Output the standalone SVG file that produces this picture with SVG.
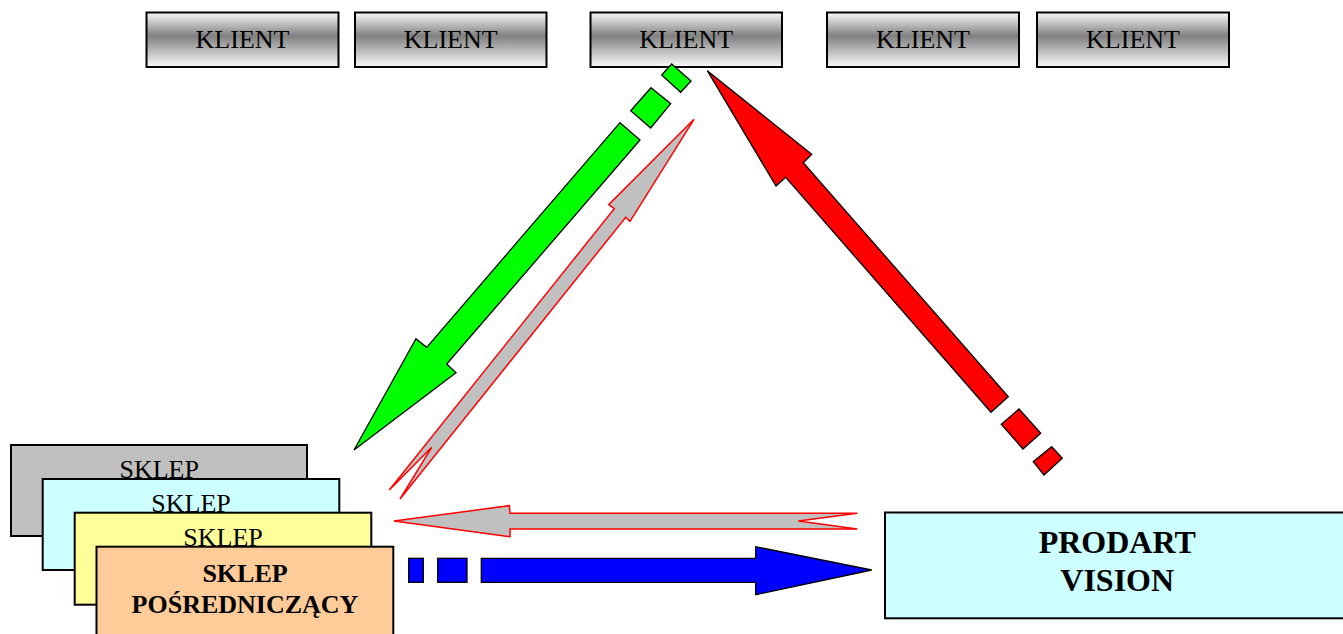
<svg xmlns="http://www.w3.org/2000/svg" width="1343" height="634" viewBox="0 0 1343 634">
<style>
.klient{stroke:#000;stroke-width:2;fill:url(#kg)}
.box{stroke:#000;stroke-width:2}
.t{font-family:"Liberation Serif","Times New Roman",serif;font-size:26px;fill:#000;text-anchor:middle}
.b{font-weight:bold}
.big{font-size:32px}
.blk{stroke:#000;stroke-width:1.3;stroke-linejoin:miter}
.hollow{fill:#c0c0c0;stroke:#ff0000;stroke-width:1.5}
</style>
<defs>
<linearGradient id="kg" x1="0" y1="0" x2="0" y2="1">
<stop offset="0" stop-color="#fafafa"/>
<stop offset="0.43" stop-color="#808080"/>
<stop offset="1" stop-color="#fafafa"/>
</linearGradient>
</defs>
<rect width="1343" height="634" fill="#fff"/>
<g id="klient1"><rect class="klient" x="146.5" y="12.5" width="192" height="54.5"/><text class="t" x="242.5" y="48.3">KLIENT</text></g>
<g id="klient2"><rect class="klient" x="355" y="12.5" width="191.5" height="54.5"/><text class="t" x="450.7" y="48.3">KLIENT</text></g>
<g id="klient3"><rect class="klient" x="590.5" y="12.5" width="191.5" height="54.5"/><text class="t" x="686.2" y="48.3">KLIENT</text></g>
<g id="klient4"><rect class="klient" x="827" y="12.5" width="192" height="54.5"/><text class="t" x="923" y="48.3">KLIENT</text></g>
<g id="klient5"><rect class="klient" x="1037" y="12.5" width="192" height="54.5"/><text class="t" x="1133" y="48.3">KLIENT</text></g>
<g id="sklep1"><rect class="box" x="11" y="445" width="296" height="91" fill="#c0c0c0"/><text class="t" x="159.2" y="477.7">SKLEP</text></g>
<g id="sklep2"><rect class="box" x="42.7" y="479" width="296.6" height="91" fill="#ccffff"/><text class="t" x="191" y="511.7">SKLEP</text></g>
<g id="sklep3"><rect class="box" x="74.7" y="512.7" width="296.6" height="92" fill="#ffff99"/><text class="t" x="223" y="546">SKLEP</text></g>
<g id="sklep4"><rect class="box" x="96.5" y="546.7" width="296.8" height="95" fill="#ffcc99"/><text class="t b" x="245" y="581.7">SKLEP</text><text class="t b" x="245" y="612.7">POŚREDNICZĄCY</text></g>
<g id="prodart"><rect class="box" x="885" y="512.5" width="466" height="105.8" fill="#ccffff"/><text class="t b big" x="1117.2" y="553.3">PRODART</text><text class="t b big" x="1117.2" y="590.7">VISION</text></g>
<g id="connectors">
<g id="green">
<polygon class="blk" fill="#00ff00" points="671.7,64 691,81 680.7,92.3 661.7,75"/>
<polygon class="blk" fill="#00ff00" points="651,87.7 670.7,103.7 650.7,128 630.7,110.7"/>
<polygon class="blk" fill="#00ff00" points="620,122.7 640,140 446.7,364 456,372.7 354,450 416,338.7 426.7,347.3"/>
</g>
<polygon class="hollow" points="694,119.3 630,221.3 625.7,217.3 400,499 431.7,447.3 389.3,490 614.3,208.7 608.7,204.7"/>
<g id="red">
<polygon class="blk" fill="#ff0000" points="707.3,70.7 811.7,154.3 803.3,162.7 1008.3,396.7 991,412.3 785.7,177.3 776,186"/>
<polygon class="blk" fill="#ff0000" points="1019,409 1040.7,433.3 1023,449 1001.3,424.3"/>
<polygon class="blk" fill="#ff0000" points="1051.7,446.7 1062.3,458.3 1044,475 1033.3,461.7"/>
</g>
<polygon class="hollow" points="394,521 509.3,505.7 510,513.3 857.3,513.3 798.3,521 857.3,529 510,529 510,536.7"/>
<g id="blue">
<rect class="blk" fill="#0000ff" x="408.7" y="558.3" width="14.6" height="24"/>
<rect class="blk" fill="#0000ff" x="437.7" y="558.3" width="29.3" height="24"/>
<polygon class="blk" fill="#0000ff" points="481.3,558.3 755.7,558.3 755.7,546.7 871.7,570 755.7,594.7 755.7,582.3 481.3,582.3"/>
</g>
</g>
</svg>
